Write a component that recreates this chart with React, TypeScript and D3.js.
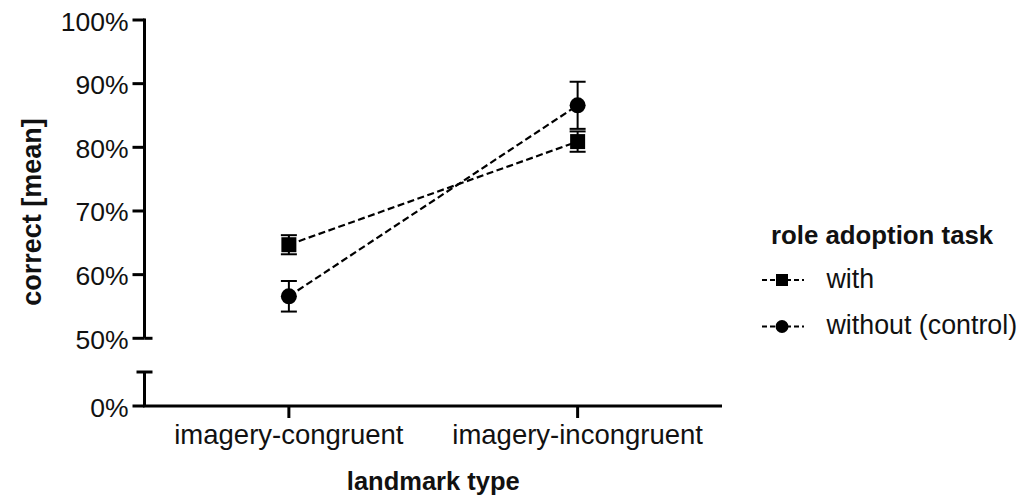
import React from "react";
import * as d3 from "d3";

// values (percent correct, mean and SEM)
const categories = ["imagery-congruent", "imagery-incongruent"];
const withMean = [64.7, 80.9];
const withSem = [1.5, 1.6];
const withoutMean = [56.6, 86.6];
const withoutSem = [2.4, 3.7];
const upperTicks = [50, 60, 70, 80, 90, 100];
const lowerTicks = [0];
const legendTitle = "role adoption task";
const seriesNames = ["with", "without (control)"];

const FONT = "'Liberation Sans', Arial, Helvetica, sans-serif";

function Marker({ kind, x, y, size }: { kind: string; x: number; y: number; size: number }) {
  if (kind === "square") {
    return <rect x={x - size / 2} y={y - size / 2} width={size} height={size} fill="black" />;
  }
  return <circle cx={x} cy={y} r={size / 2} fill="black" />;
}

function Chart() {
  const width = 1031;
  const height = 499;
  const axisX = 144.5;
  const axisY = 406;
  const xRight = 722;
  const breakTop = 372;

  const x = d3.scalePoint<string>().domain(categories).range([axisX, xRight]).padding(0.5);
  const yUp = d3.scaleLinear().domain([50, 100]).range([338.3, 20]);
  const yLow = d3.scaleLinear().domain([0, 50]).range([axisY, axisY - 318.3]);

  const series = [
    { name: seriesNames[0], mean: withMean, sem: withSem, kind: "square", size: 15 },
    { name: seriesNames[1], mean: withoutMean, sem: withoutSem, kind: "circle", size: 16 },
  ];

  const line = d3
    .line<number>()
    .x((_, i) => x(categories[i]) as number)
    .y((d) => yUp(d));

  const capW = 16;

  return (
    <svg width={width} height={height} style={{ position: "absolute", left: 0, top: 0 }} fontFamily={FONT}>
      <rect width={width} height={height} fill="white" />

      {/* upper y segment */}
      <line x1={axisX} x2={axisX} y1={yUp(100) - 1.5} y2={yUp(50)} stroke="black" strokeWidth={3} />
      <line x1={axisX} x2={axisX + 8} y1={yUp(50)} y2={yUp(50)} stroke="black" strokeWidth={3} />
      {upperTicks.map((t) => (
        <g key={"u" + t}>
          <line x1={axisX - 12} x2={axisX} y1={yUp(t)} y2={yUp(t)} stroke="black" strokeWidth={3} />
          <text x={128.5} y={yUp(t) + 10.5} fontSize={26.5} textAnchor="end" fill="#111">
            {t}%
          </text>
        </g>
      ))}

      {/* lower y segment */}
      <line x1={axisX} x2={axisX} y1={breakTop} y2={axisY} stroke="black" strokeWidth={3} />
      <line x1={axisX - 8} x2={axisX + 8} y1={breakTop} y2={breakTop} stroke="black" strokeWidth={3} />
      {lowerTicks.map((t) => (
        <g key={"l" + t}>
          <line x1={axisX - 12} x2={axisX} y1={yLow(t)} y2={yLow(t)} stroke="black" strokeWidth={3} />
          <text x={128.5} y={yLow(t) + 10.5} fontSize={26.5} textAnchor="end" fill="#111">
            {t}%
          </text>
        </g>
      ))}

      {/* x axis */}
      <line x1={axisX - 1.5} x2={xRight} y1={axisY} y2={axisY} stroke="black" strokeWidth={3} />
      {categories.map((c) => (
        <g key={c}>
          <line x1={x(c)} x2={x(c)} y1={axisY} y2={axisY + 12} stroke="black" strokeWidth={3} />
          <text x={x(c)} y={443.5} fontSize={27.5} textAnchor="middle" fill="#111">
            {c}
          </text>
        </g>
      ))}

      <text x={(axisX + xRight) / 2} y={490} fontSize={25.5} fontWeight="bold" textAnchor="middle" fill="#111">
        landmark type
      </text>
      <text
        transform={`translate(41,212) rotate(-90)`}
        fontSize={27}
        fontWeight="bold"
        textAnchor="middle"
        fill="#111"
      >
        correct [mean]
      </text>

      {/* series */}
      {series.map((s) => (
        <path key={s.name + "l"} d={line(s.mean) ?? ""} fill="none" stroke="black" strokeWidth={2.2} strokeDasharray="7,3.5" />
      ))}
      {series.map((s) => (
        <g key={s.name}>
          {s.mean.map((m, i) => {
            const cx = x(categories[i]) as number;
            const top = yUp(m + s.sem[i]);
            const bot = yUp(m - s.sem[i]);
            return (
              <g key={i}>
                <line x1={cx} x2={cx} y1={top} y2={bot} stroke="black" strokeWidth={2} />
                <line x1={cx - capW / 2} x2={cx + capW / 2} y1={top} y2={top} stroke="black" strokeWidth={2} />
                <line x1={cx - capW / 2} x2={cx + capW / 2} y1={bot} y2={bot} stroke="black" strokeWidth={2} />
                <Marker kind={s.kind} x={cx} y={yUp(m)} size={s.size} />
              </g>
            );
          })}
        </g>
      ))}

      {/* legend */}
      <text x={771} y={243.5} fontSize={25.8} fontWeight="bold" fill="#111">
        {legendTitle}
      </text>
      {series.map((s, i) => {
        const ly = 280 + i * 46.5;
        return (
          <g key={"lg" + s.name}>
            <line x1={762} x2={804} y1={ly} y2={ly} stroke="black" strokeWidth={2} strokeDasharray="5,3" />
            <Marker kind={s.kind} x={782} y={ly} size={s.kind === "square" ? 12 : 13} />
            <text x={826.5} y={ly + 7.5} fontSize={26.8} fill="#111">
              {s.name}
            </text>
          </g>
        );
      })}
    </svg>
  );
}

export default function App() {
  return <Chart />;
}
